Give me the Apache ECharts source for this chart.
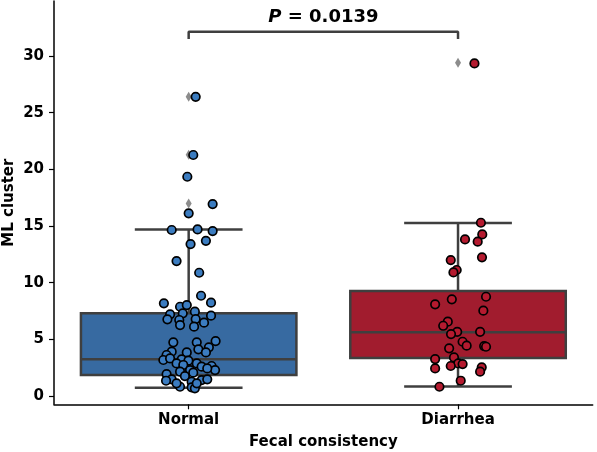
<!DOCTYPE html>
<html><head><meta charset="utf-8">
<script src="https://cdn.jsdelivr.net/npm/echarts@6/dist/echarts.min.js"></script>
<style>html,body{margin:0;padding:0;background:#fff}#c{width:597px;height:452px}</style>
</head><body><div id="c"></div>
<script>
var categories = ['Normal', 'Diarrhea'];
var yTicks = [0, 5, 10, 15, 20, 25, 30];
// box stats: [lower whisker, Q1, median, Q3, upper whisker]
var normalBox = [0.73, 1.85, 3.24, 7.3, 14.7];
var diarrheaBox = [0.85, 3.35, 5.62, 9.27, 15.27];
var normalFliers = [26.4, 21.3, 17.0];
var diarrheaFliers = [29.4];
var normalValues = [26.4,21.27,19.35,16.94,16.12,14.65,14.7,14.56,13.7,13.41,11.91,10.88,8.85,8.18,8.24,7.88,8.03,7.3,7.44,7.21,7.09,6.77,6.71,6.79,6.47,6.26,6.12,4.74,4.74,4.85,4.3,4.12,3.91,3.85,3.85,3.62,3.18,3.32,3.24,3.12,2.88,2.88,2.74,2.59,2.65,2.29,2.44,2.29,2.15,1.94,2.06,1.76,1.47,1.41,1.47,1.35,1.26,0.82,0.77,0.68,1.12,1.12];
var normalJitter = [0.026,0.017,-0.005,0.089,0.0,-0.063,0.033,0.089,0.064,0.007,-0.045,0.039,0.046,-0.092,0.083,-0.032,-0.007,-0.022,0.023,-0.069,0.083,-0.079,-0.035,0.026,0.057,-0.032,0.020,-0.057,0.030,0.100,0.075,0.036,-0.063,0.064,-0.007,-0.082,-0.094,-0.069,-0.026,-0.001,-0.045,0.030,-0.020,0.048,0.085,0.098,0.069,0.005,-0.032,-0.082,0.017,-0.014,-0.063,0.048,0.069,-0.084,0.011,-0.032,0.011,0.023,-0.045,0.030];
var diarrheaValues = [29.35,15.29,14.26,13.82,13.62,12.24,12.0,11.12,10.91,8.76,8.53,8.09,7.53,6.56,6.2,5.67,5.47,5.67,4.79,4.44,4.41,4.35,4.21,3.26,3.41,2.88,2.82,2.65,2.44,2.53,2.15,1.35,0.82];
var diarrheaJitter = [0.061,0.085,0.090,0.026,0.073,0.089,-0.027,-0.005,-0.017,0.104,-0.023,-0.085,0.094,-0.038,-0.055,-0.003,-0.026,0.082,0.017,0.032,0.097,0.104,-0.033,-0.085,-0.015,0.001,0.017,-0.027,-0.085,0.088,0.082,0.010,-0.069];
var pText = '0.0139';
var bracketY = [31.5, 32.15];

var FONT = 'DejaVu Sans';
var boxFill = ['#376aa1', '#a11c2e'];
var pointFill = ['#3b7cc0', '#b51a2f'];
var EDGE = '#3f3f3f';

var chart = echarts.init(document.getElementById('c'), null, {renderer: 'canvas'});

function pts(vals, jit, idx) {
  return vals.map(function (v, i) { return [idx + jit[i], v]; });
}
var boxData = [[0].concat(normalBox), [1].concat(diarrheaBox)];
var flierData = normalFliers.map(function (v) { return [0, v]; })
  .concat(diarrheaFliers.map(function (v) { return [1, v]; }));

var option = {
  animation: false,
  backgroundColor: '#fff',
  grid: {left: 54, right: 4.3, top: 1, bottom: 47.7, outerBoundsMode: 'none', containLabel: false},
  xAxis: {
    type: 'value', min: -0.5, max: 1.5,
    name: 'Fecal consistency', nameLocation: 'middle', nameGap: 30, nameMoveOverlap: false,
    nameTextStyle: {fontFamily: FONT, fontWeight: 'bold', fontSize: 15, color: '#000'},
    axisLine: {onZero: false, lineStyle: {color: '#000', width: 1.5}},
    axisTick: {show: true, length: 5, customValues: [0, 1], lineStyle: {color: '#000', width: 1.2}},
    axisLabel: {customValues: [0, 1], margin: 8, fontFamily: FONT, fontWeight: 'bold', fontSize: 15, color: '#000',
      formatter: function (v) { return categories[Math.round(v)]; }},
    splitLine: {show: false}
  },
  yAxis: {
    type: 'value', min: -0.73, max: 34.86,
    name: 'ML cluster', nameLocation: 'middle', nameGap: 37, nameRotate: 90, nameMoveOverlap: false,
    nameTextStyle: {fontFamily: FONT, fontWeight: 'bold', fontSize: 15, color: '#000'},
    axisLine: {show: true, onZero: false, lineStyle: {color: '#000', width: 1.5}},
    axisTick: {show: true, length: 5, customValues: yTicks, lineStyle: {color: '#000', width: 1.2}},
    axisLabel: {customValues: yTicks, margin: 10, fontFamily: FONT, fontWeight: 'bold', fontSize: 15, color: '#000'},
    splitLine: {show: false}
  },
  series: [
    {
      type: 'custom', z: 1,
      data: boxData,
      renderItem: function (params, api) {
        var x = api.value(0), lo = api.value(1), q1 = api.value(2), md = api.value(3), q3 = api.value(4), hi = api.value(5);
        var tl = api.coord([x - 0.4, q3]), br = api.coord([x + 0.4, q1]);
        var cx = api.coord([x, 0])[0];
        var capL = api.coord([x - 0.2, 0])[0], capR = api.coord([x + 0.2, 0])[0];
        var yLo = api.coord([x, lo])[1], yHi = api.coord([x, hi])[1], yMd = api.coord([x, md])[1];
        var ls = {stroke: EDGE, lineWidth: 2.5};
        return {type: 'group', children: [
          {type: 'line', shape: {x1: cx, y1: tl[1], x2: cx, y2: yHi}, style: ls},
          {type: 'line', shape: {x1: cx, y1: br[1], x2: cx, y2: yLo}, style: ls},
          {type: 'line', shape: {x1: capL, y1: yHi, x2: capR, y2: yHi}, style: ls},
          {type: 'line', shape: {x1: capL, y1: yLo, x2: capR, y2: yLo}, style: ls},
          {type: 'rect', shape: {x: tl[0], y: tl[1], width: br[0] - tl[0], height: br[1] - tl[1]},
            style: {fill: boxFill[params.dataIndex], stroke: EDGE, lineWidth: 2.5}},
          {type: 'line', shape: {x1: tl[0], y1: yMd, x2: br[0], y2: yMd}, style: ls}
        ]};
      }
    },
    {
      type: 'scatter', z: 2, data: flierData,
      symbol: 'diamond', symbolSize: [6, 10],
      itemStyle: {color: '#8c8c8c', opacity: 1}
    },
    {
      type: 'scatter', z: 3, data: pts(normalValues, normalJitter, 0),
      symbol: 'circle', symbolSize: 8.5,
      itemStyle: {color: pointFill[0], borderColor: '#000', borderWidth: 1.7, opacity: 1}
    },
    {
      type: 'scatter', z: 3, data: pts(diarrheaValues, diarrheaJitter, 1),
      symbol: 'circle', symbolSize: 8.5,
      itemStyle: {color: pointFill[1], borderColor: '#000', borderWidth: 1.7, opacity: 1}
    },
    {
      type: 'line', z: 4, symbol: 'none',
      data: [[0, bracketY[0]], [0, bracketY[1]], [1, bracketY[1]], [1, bracketY[0]]],
      lineStyle: {color: EDGE, width: 2.5}
    },
    {
      type: 'custom', z: 5,
      data: [[0.5, bracketY[1]]],
      renderItem: function (params, api) {
        var p = api.coord([api.value(0), api.value(1)]);
        return {type: 'text', x: p[0], y: p[1] - 5,
          style: {text: '{i|P}{n| = ' + pText + '}', align: 'center', verticalAlign: 'bottom',
            rich: {
              i: {fontFamily: FONT, fontWeight: 'bold', fontStyle: 'italic', fontSize: 18, fill: '#000'},
              n: {fontFamily: FONT, fontWeight: 'bold', fontSize: 18, fill: '#000'}
            }}};
      }
    }
  ]
};
chart.setOption(option);
</script></body></html>
